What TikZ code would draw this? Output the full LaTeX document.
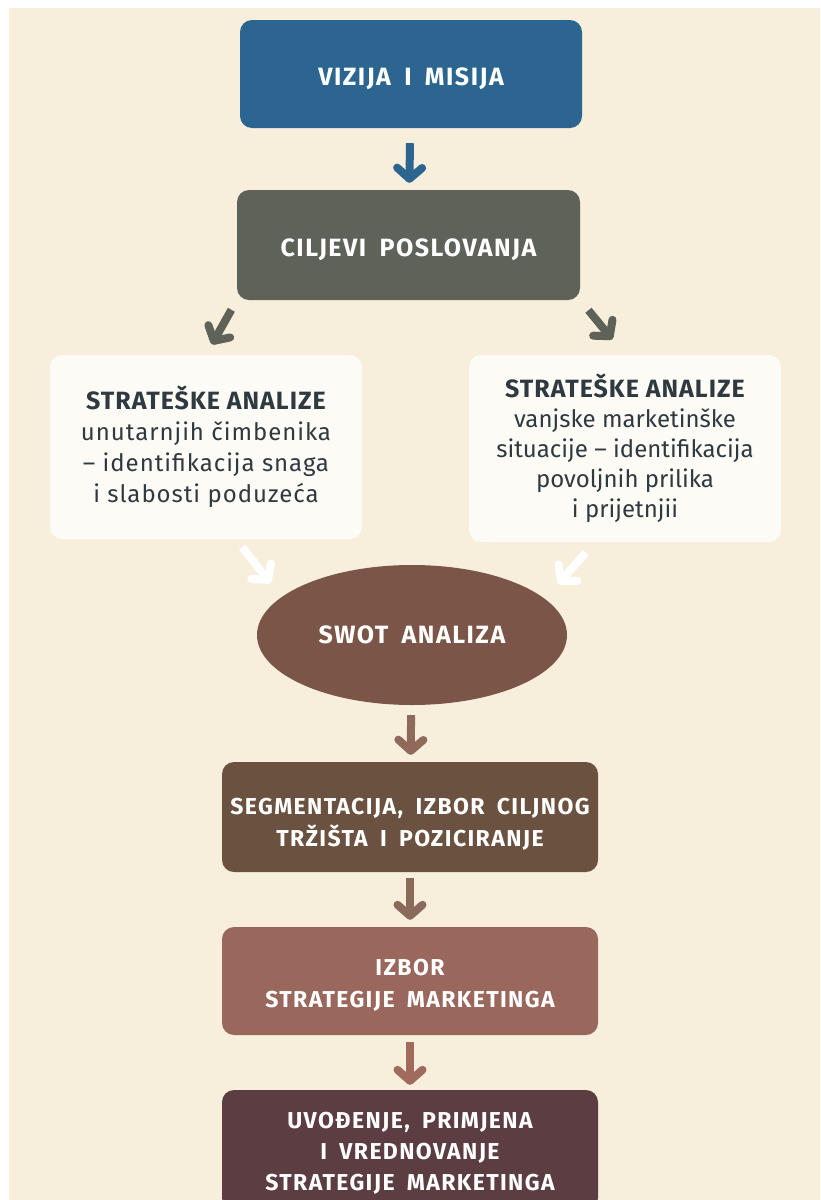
\documentclass[tikz,border=0pt]{standalone}
\usepackage{fontspec}
\setmainfont{Fira Sans}
\newfontfamily\capsfont[LetterSpace=6,WordSpace=1.8]{Fira Sans}
\newfontfamily\headfont[LetterSpace=4]{Fira Sans}
\newfontfamily\widefont[LetterSpace=4]{Fira Sans}
\newcommand\liftline[1]{\rule{0pt}{#1}}
\usetikzlibrary{arrows.meta,shapes.geometric}

\definecolor{paper}{HTML}{F7EFDC}
\definecolor{visionblue}{HTML}{2C6690}
\definecolor{goalgray}{HTML}{5F6259}
\definecolor{whitebox}{HTML}{FDFBF6}
\definecolor{inktext}{HTML}{2F3A40}
\definecolor{swotbrown}{HTML}{7B5547}
\definecolor{segbrown}{HTML}{6B513F}
\definecolor{choicerose}{HTML}{9A675C}
\definecolor{launchplum}{HTML}{5B3D42}

\begin{document}
\begin{tikzpicture}[x=1pt,y=-1pt,
    stagebox/.style={rectangle,rounded corners=12pt,text=white,align=center,
      font=\capsfont\bfseries\fontsize{23}{32}\selectfont,inner sep=0pt},
    bigstage/.style={stagebox,font=\capsfont\bfseries\fontsize{25}{32}\selectfont},
    analysisbox/.style={rectangle,rounded corners=12pt,fill=whitebox,text=inktext,align=center,
      font=\fontsize{24}{30}\selectfont,inner sep=0pt},
    flow/.style={line width=8pt,-{Straight Barb[length=11pt,width=25pt,round]}}]
      \useasboundingbox (0,0) rectangle (820,1200);
      \fill[white] (0,0) rectangle (820,1200);
      \fill[paper] (9,8) rectangle (820,1200);
      % boxes
      \node[bigstage,fill=visionblue,minimum width=342pt,minimum height=108pt] (vizija) at (411,74) {\liftline{28pt}VIZIJA I MISIJA};
      \node[bigstage,fill=goalgray,minimum width=343pt,minimum height=110pt] (ciljevi) at (408.5,245) {\liftline{27pt}CILJEVI POSLOVANJA};
      \node[analysisbox,font=\widefont\fontsize{24}{31}\selectfont,minimum width=312pt,minimum height=184pt] (unutarnje) at (206,447)
        {{\headfont\bfseries\fontsize{25}{31}\selectfont STRATEŠKE ANALIZE}\\unutarnjih čimbenika\\– identifikacija snaga\\i slabosti poduzeća};
      \node[analysisbox,minimum width=312pt,minimum height=187pt] (vanjske) at (625,448.5)
        {{\headfont\bfseries\fontsize{25}{30}\selectfont STRATEŠKE ANALIZE}\\vanjske marketinške\\situacije – identifikacija\\povoljnih prilika\\i prijetnjii};
      \node[bigstage,ellipse,fill=swotbrown,minimum width=310pt,minimum height=140pt] (swot) at (412,635) {SWOT ANALIZA};
      \node[stagebox,fill=segbrown,minimum width=376pt,minimum height=110pt] (segment) at (410,817)
        {\liftline{30pt}SEGMENTACIJA, IZBOR CILJNOG\\TRŽIŠTA I POZICIRANJE};
      \node[stagebox,fill=choicerose,minimum width=376pt,minimum height=108pt] (izbor) at (410,981)
        {\liftline{24pt}IZBOR\\STRATEGIJE MARKETINGA};
      \node[stagebox,font=\capsfont\bfseries\fontsize{23}{31}\selectfont,fill=launchplum,minimum width=376pt,minimum height=120pt] (uvodenje) at (410,1150)
        {\liftline{22pt}UVOĐENJE, PRIMJENA\\I VREDNOVANJE\\STRATEGIJE MARKETINGA};
      % arrows
      \draw[flow,visionblue,shorten <=15pt,shorten >=7pt] (vizija) -- (ciljevi);
      \draw[flow,goalgray,shorten <=11pt,shorten >=12pt] (ciljevi.south west) -- (unutarnje.north);
      \draw[flow,goalgray,shorten <=13pt,shorten >=20pt] (ciljevi.south east) -- (vanjske.north);
      \draw[flow,white,shorten <=10pt,shorten >=3pt] ([xshift=30pt]unutarnje.south) -- ([xshift=-30pt]swot.north west);
      \draw[flow,white,shorten <=14pt,shorten >=2pt] ([xshift=-30pt]vanjske.south) -- ([xshift=35pt]swot.north east);
      \draw[flow,color={rgb,255:red,143;green,106;blue,90},shorten <=10pt,shorten >=7pt] (swot) -- (segment);
      \draw[flow,color={rgb,255:red,138;green,107;blue,90},shorten <=6pt,shorten >=7pt] (segment) -- (izbor);
      \draw[flow,color={rgb,255:red,160;green,106;blue,92},shorten <=7pt,shorten >=5pt] (izbor) -- (uvodenje);
    \end{tikzpicture}
\end{document}
